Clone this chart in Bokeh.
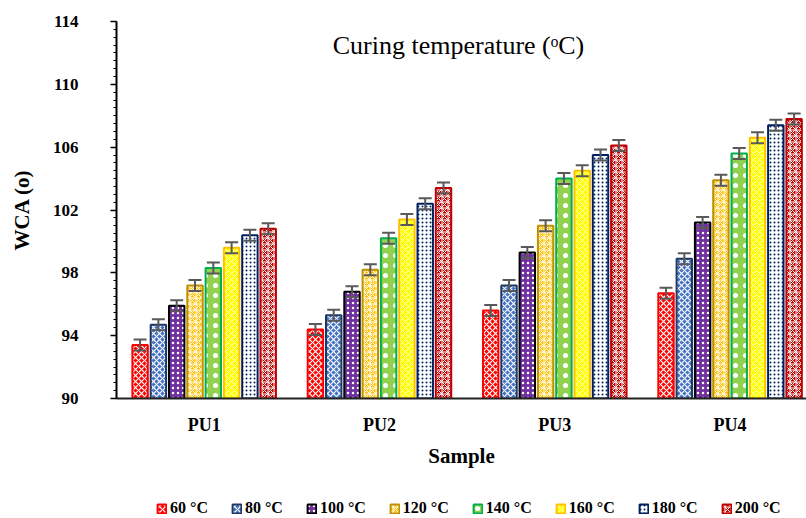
from bokeh.plotting import figure
from bokeh.layouts import column
from bokeh.models import (ColumnDataSource, Range1d, FixedTicker, BoxAnnotation,
                          Whisker, TeeHead, Legend, LegendItem, Label)
from bokeh.embed import file_html
from bokeh.resources import INLINE

samples = ["PU1", "PU2", "PU3", "PU4"]
temps = ["60 °C", "80 °C", "100 °C", "120 °C", "140 °C", "160 °C", "180 °C", "200 °C"]
y_ticks = [90, 94, 98, 102, 106, 110, 114]

wca_60 = [93.4, 94.4, 95.6, 96.7]
wca_80 = [94.7, 95.3, 97.2, 98.9]
wca_100 = [95.9, 96.8, 99.3, 101.2]
wca_120 = [97.2, 98.2, 101.0, 103.9]
wca_140 = [98.3, 100.2, 104.0, 105.6]
wca_160 = [99.6, 101.4, 104.5, 106.6]
wca_180 = [100.4, 102.4, 105.5, 107.4]
wca_200 = [100.8, 103.4, 106.1, 107.8]

err_60 = [0.35, 0.35, 0.35, 0.35]
err_80 = [0.35, 0.35, 0.35, 0.35]
err_100 = [0.35, 0.35, 0.35, 0.35]
err_120 = [0.35, 0.35, 0.35, 0.35]
err_140 = [0.35, 0.35, 0.35, 0.35]
err_160 = [0.35, 0.35, 0.35, 0.35]
err_180 = [0.35, 0.35, 0.35, 0.35]
err_200 = [0.35, 0.35, 0.35, 0.35]

series = [wca_60, wca_80, wca_100, wca_120, wca_140, wca_160, wca_180, wca_200]
errors = [err_60, err_80, err_100, err_120, err_140, err_160, err_180, err_200]

# style per series: fill, hatch pattern, hatch color, hatch scale, hatch weight, outline
styles = [
    ("#FF0000", "diagonal_cross", "white", 6, 1.2, "#FF0000"),
    ("#4472C4", "diagonal_cross", "white", 6, 1.2, "#1F3864"),
    ("#7030A0", "dot", "white", 5, 1.6, "#000000"),
    ("#FFC000", "criss_cross", "white", 6, 1.0, "#BF9000"),
    ("#92D050", "dot", "white", 10, 1.0, "#00B050"),
    ("#FFFF00", "diagonal_cross", "#FFFFD0", 6, 1.0, "#FFC000"),
    ("#FFFFFF", "dot", "#002060", 4, 3.5, "#002060"),
    ("#C00000", "criss_cross", "white", 6, 1.0, "#C00000"),
]

FONT = "Liberation Serif"

p = figure(width=806, height=490, output_backend="svg", toolbar_location=None,
           x_range=Range1d(0, 3.936), y_range=Range1d(90, 114),
           min_border_left=116, min_border_right=0, min_border_top=21,
           min_border_bottom=92)
p.outline_line_color = None
p.xgrid.grid_line_color = None
p.ygrid.grid_line_color = None
p.background_fill_color = "white"
p.border_fill_color = "white"

# legend strip below the chart; its bars lie out of view and are also masked,
# so only the legend swatches show
leg_fig = figure(width=806, height=28, output_backend="svg", toolbar_location=None,
                 x_axis_type=None, y_axis_type=None,
                 x_range=Range1d(0, 3.936), y_range=Range1d(200, 201),
                 min_border_left=0, min_border_right=0, min_border_top=0,
                 min_border_bottom=0)
leg_fig.outline_line_color = None
leg_fig.xgrid.grid_line_color = None
leg_fig.ygrid.grid_line_color = None
leg_fig.add_layout(BoxAnnotation(fill_color="white", fill_alpha=1.0,
                                 line_alpha=0, level="underlay"))

pitch = 0.1044
bw = 0.088
items = []
for j, (vals, errs, st, lab) in enumerate(zip(series, errors, styles, temps)):
    xs = [i + 0.5 + (j - 3.5) * pitch for i in range(len(samples))]
    src = ColumnDataSource(dict(x=xs, top=vals,
                                upper=[v + e for v, e in zip(vals, errs)],
                                lower=[v - e for v, e in zip(vals, errs)]))
    fill, hp, hc, hs, hw, lc = st
    style = dict(fill_color=fill, hatch_pattern=hp, hatch_color=hc,
                 hatch_scale=hs, hatch_weight=hw, line_color=lc, line_width=2)
    p.vbar(x="x", top="top", bottom=90, width=bw, source=src, **style)
    w = Whisker(source=src, base="x", upper="upper", lower="lower",
                line_color="#595959", line_width=2, level="overlay",
                upper_head=TeeHead(size=13, line_color="#595959", line_width=2),
                lower_head=TeeHead(size=13, line_color="#595959", line_width=2))
    p.add_layout(w)
    r = leg_fig.vbar(x="x", top="top", bottom=90, width=bw, source=src,
                     level="image", **style)
    items.append(LegendItem(label=lab, renderers=[r]))

# y axis
minor = [y_ticks[0] + 0.5 * k for k in range(int((y_ticks[-1] - y_ticks[0]) * 2) + 1)]
yax = p.yaxis[0]
yax.ticker = FixedTicker(ticks=y_ticks, minor_ticks=minor)
yax.axis_line_width = 2
yax.axis_line_color = "black"
yax.major_tick_out = 6
yax.major_tick_in = 0
yax.minor_tick_out = 3
yax.minor_tick_in = 0
yax.major_tick_line_width = 1.5
yax.minor_tick_line_width = 1
yax.major_label_text_font = FONT
yax.major_label_text_font_style = "bold"
yax.major_label_text_font_size = "17px"
yax.major_label_text_color = "black"
yax.major_label_standoff = 32
yax.axis_label = "WCA (o)"
yax.axis_label_text_font = FONT
yax.axis_label_text_font_style = "bold"
yax.axis_label_text_font_size = "21px"
yax.axis_label_text_color = "black"
yax.axis_label_standoff = 16

# x axis
xax = p.xaxis[0]
xax.ticker = FixedTicker(ticks=[0.5, 1.5, 2.5, 3.5])
xax.major_label_overrides = {0.5: samples[0], 1.5: samples[1], 2.5: samples[2], 3.5: samples[3]}
xax.major_tick_line_color = None
xax.minor_tick_line_color = None
xax.axis_line_width = 2
xax.axis_line_color = "#222222"
xax.major_label_text_font = FONT
xax.major_label_text_font_style = "bold"
xax.major_label_text_font_size = "18px"
xax.major_label_text_color = "black"
xax.major_label_standoff = 10
xax.axis_label = "Sample"
xax.axis_label_text_font = FONT
xax.axis_label_text_font_style = "bold"
xax.axis_label_text_font_size = "21px"
xax.axis_label_text_color = "black"
xax.axis_label_standoff = 6

title = Label(x=342, y=353, x_units="screen", y_units="screen",
              text="Curing temperature (ᵒC)", text_font=FONT,
              text_font_size="26px", text_align="center", text_baseline="middle",
              text_color="black")
p.add_layout(title)

legend = Legend(items=items, orientation="horizontal", location=(40, 1),
                label_text_font=FONT, label_text_font_style="bold",
                label_text_font_size="16px", label_text_color="black",
                glyph_width=11, glyph_height=11, label_standoff=3, spacing=23,
                padding=0, margin=0, border_line_color=None,
                background_fill_alpha=0)
leg_fig.add_layout(legend)

layout = column(p, leg_fig, spacing=0)
open("out.html", "w").write(file_html(layout, INLINE))
